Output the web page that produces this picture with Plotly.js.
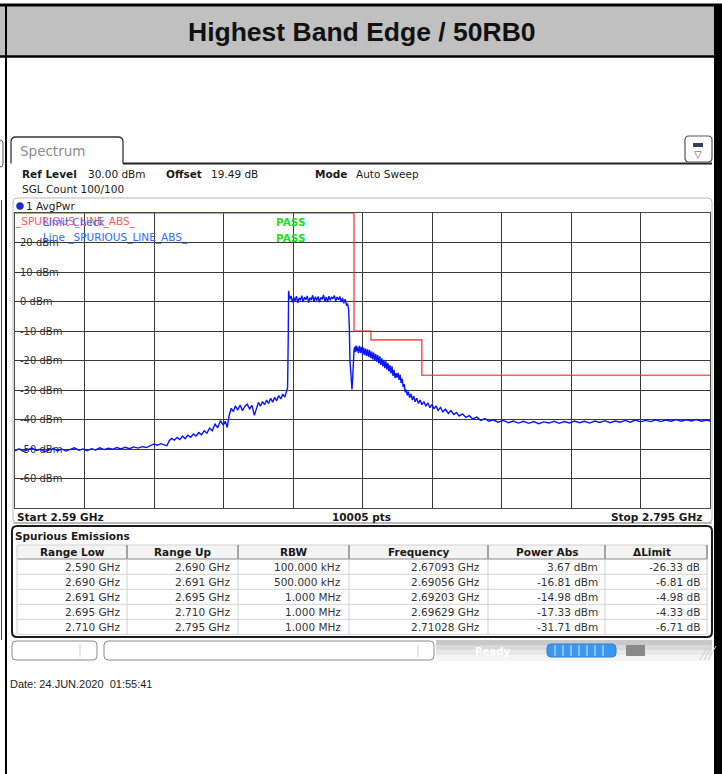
<!DOCTYPE html>
<html><head><meta charset="utf-8">
<script src="https://cdn.plot.ly/plotly-3.0.1.min.js"></script>
<style>html,body{margin:0;padding:0;background:#fff;}#chart{width:722px;height:774px;}</style>
</head><body><div id="chart"></div>
<script>
// ---------------- data ----------------
const chartTitle = 'Highest Band Edge / 50RB0';
const freqGHz = [
2.5900,2.5912,2.5925,2.5938,2.5950,2.5963,2.5975,2.5988,2.6000,2.6013,2.6025,2.6038,2.6050,2.6063,2.6075,2.6088,
2.6100,2.6113,2.6125,2.6138,2.6150,2.6163,2.6175,2.6188,2.6200,2.6213,2.6225,2.6238,2.6250,2.6263,2.6275,2.6288,
2.6300,2.6310,2.6320,2.6330,2.6340,2.6348,2.6355,2.6362,2.6370,2.6378,2.6386,2.6394,2.6402,2.6410,2.6418,2.6426,
2.6434,2.6442,2.6450,2.6458,2.6466,2.6474,2.6482,2.6490,2.6498,2.6506,2.6514,2.6520,2.6526,2.6532,2.6538,2.6544,
2.6550,2.6557,2.6564,2.6571,2.6578,2.6585,2.6592,2.6599,2.6606,2.6612,2.6618,2.6624,2.6630,2.6636,2.6642,2.6648,
2.6654,2.6660,2.6666,2.6672,2.6678,2.6684,2.6690,2.6696,2.6701,2.6704,2.6706,2.6707,2.6710,
2.6714,2.6718,2.6722,2.6726,2.6730,2.6734,2.6738,2.6742,2.6746,2.6750,2.6754,2.6758,2.6762,2.6766,2.6770,2.6774,
2.6778,2.6782,2.6786,2.6790,2.6794,2.6798,2.6802,2.6806,2.6810,2.6814,2.6818,2.6822,2.6826,2.6830,2.6834,2.6838,
2.6842,2.6846,2.6850,2.6854,2.6858,2.6862,2.6866,2.6870,2.6874,2.6878,2.6881,2.6884,2.6886,2.6888,2.6890,2.6892,
2.6894,2.6896,2.6898,2.6900,2.6902,2.6904,2.6906,2.6908,2.6910,2.6913,2.6916,2.6919,2.6922,2.6925,2.6928,2.6931,
2.6934,2.6937,2.6940,2.6943,2.6946,2.6949,2.6952,2.6955,2.6958,2.6961,2.6964,2.6967,2.6970,2.6973,2.6976,2.6979,
2.6982,2.6985,2.6988,2.6991,2.6994,2.6997,2.7000,2.7003,2.7006,2.7009,2.7012,2.7015,2.7018,2.7021,2.7024,2.7027,
2.7030,2.7033,2.7036,2.7039,2.7042,2.7045,2.7048,2.7051,2.7054,2.7057,2.7060,2.7064,2.7068,2.7072,2.7076,2.7080,
2.7085,2.7090,2.7095,2.7100,2.7106,2.7112,2.7118,2.7124,2.7130,2.7136,2.7142,2.7148,2.7155,2.7162,2.7170,2.7178,
2.7186,2.7194,2.7202,2.7210,2.7220,2.7230,2.7240,2.7250,2.7262,2.7274,2.7286,2.7298,2.7310,2.7325,2.7340,2.7355,
2.7370,2.7385,2.7400,2.7415,2.7430,2.7445,2.7460,2.7475,2.7490,2.7505,2.7520,2.7535,2.7550,2.7565,2.7580,2.7595,
2.7610,2.7625,2.7640,2.7655,2.7670,2.7685,2.7700,2.7715,2.7730,2.7745,2.7760,2.7775,2.7790,2.7805,2.7820,2.7835,
2.7850,2.7865,2.7880,2.7895,2.7910,2.7925,2.7940,2.7950
];
const levelDbm = [
-50.6,-49.9,-50.8,-50.2,-49.7,-50.5,-50.1,-50.9,-50.3,-49.8,-50.6,-50.0,-50.7,-50.2,-49.6,-50.4,
-50.0,-50.6,-49.9,-50.3,-49.6,-50.2,-49.7,-50.1,-49.5,-50.0,-49.4,-49.9,-49.3,-49.7,-49.2,-49.5,
-48.9,-48.3,-48.7,-48.2,-48.6,-48.9,-47.2,-46.4,-47.0,-46.1,-46.8,-45.6,-46.5,-45.3,-46.0,-44.9,
-45.6,-44.4,-45.2,-43.8,-44.6,-42.9,-43.8,-41.6,-42.8,-40.4,-41.9,-40.6,-42.7,-38.4,-36.2,-37.3,
-35.4,-36.8,-35.1,-37.0,-35.6,-34.8,-36.4,-35.2,-38.6,-36.0,-34.2,-35.5,-33.9,-35.0,-33.4,-34.6,
-32.8,-34.1,-32.5,-33.6,-31.9,-33.0,-31.4,-32.4,-30.6,-29.2,-12.0,3.6,0.8,
1.9,-0.3,1.4,0.2,1.8,-0.5,1.2,0.4,2.0,-0.2,1.5,0.6,1.9,-0.4,1.3,0.5,
2.1,0.0,1.6,0.3,1.7,-0.3,1.4,0.7,2.2,0.1,1.5,-0.2,1.8,0.4,1.6,0.9,
2.0,0.2,1.5,0.6,1.7,-0.2,1.2,-0.6,0.8,-1.4,-0.7,-2.6,-8.0,-20.0,-25.0,-27.5,
-29.8,-26.0,-19.5,-16.5,-15.4,-17.2,-14.9,-16.8,-15.3,-17.5,-15.0,-17.4,-15.4,-17.9,-15.6,-18.2,
-16.0,-18.4,-16.2,-18.8,-16.5,-19.1,-17.0,-19.6,-17.3,-20.0,-17.8,-20.4,-18.2,-21.0,-18.6,-21.5,
-19.3,-22.0,-19.8,-22.6,-20.3,-23.1,-20.9,-23.7,-21.6,-24.4,-22.0,-25.2,-23.2,-26.0,-24.3,-25.8,
-24.2,-26.6,-24.9,-27.6,-26.2,-29.0,-28.0,-30.8,-29.9,-31.8,-30.6,-32.6,-31.3,-33.4,-32.0,-34.0,
-32.8,-34.6,-33.4,-35.0,-33.9,-35.5,-34.4,-36.0,-34.9,-36.4,-35.4,-36.9,-35.9,-37.4,-36.5,-37.9,
-37.0,-38.3,-37.6,-38.8,-38.1,-39.3,-38.7,-39.8,-39.2,-40.3,-39.7,-40.6,-40.1,-40.9,-40.3,-41.1,
-40.5,-41.2,-40.6,-41.3,-40.7,-41.4,-40.8,-41.2,-40.6,-41.3,-40.7,-41.2,-40.5,-41.1,-40.6,-41.2,
-40.5,-41.0,-40.4,-41.1,-40.5,-40.9,-40.3,-40.9,-40.2,-40.8,-40.3,-40.7,-40.1,-40.7,-40.2,-40.6,
-40.0,-40.6,-40.1,-40.5,-40.0,-40.6,-40.2,-40.5
];
const yTickValues = [20,10,0,-10,-20,-30,-40,-50,-60];
const yTickLabels = ['20 dBm','10 dBm','0 dBm','-10 dBm','-20 dBm','-30 dBm','-40 dBm','-50 dBm','-60 dBm'];
const startGHz = 2.59, stopGHz = 2.795, sweepPoints = 10005;
const refLevel = '30.00 dBm', offsetDb = '19.49 dB', sweepMode = 'Auto Sweep', sglCount = '100/100';
const tableHeaders = ['Range Low','Range Up','RBW','Frequency','Power Abs','ΔLimit'];
const rangeLow = [2.590,2.690,2.691,2.695,2.710];
const rangeUp  = [2.690,2.691,2.695,2.710,2.795];
const rbwText  = ['100.000 kHz','500.000 kHz','1.000 MHz','1.000 MHz','1.000 MHz'];
const peakFreq = [2.67093,2.69056,2.69203,2.69629,2.71028];
const powerAbs = [3.67,-16.81,-14.98,-17.33,-31.71];
const deltaLimit = [-26.33,-6.81,-4.98,-4.33,-6.71];
const dateText = 'Date: 24.JUN.2020  01:55:41';

// ---------------- pixel helpers for decorations ----------------
const PL = 15, PT = 213, PW = 695, PH = 295;
const X = p => (p - PL) / PW;
const Y = p => (PT + PH - p) / PH;
const FONT = 'DejaVu Sans';
const ann = [];
const shp = [];
function txt(s, x, y, o) {
  o = o || {};
  ann.push({text: o.bold ? '<b>' + s + '</b>' : s, x: X(x), y: Y(y), xref: 'paper', yref: 'paper',
    showarrow: false, xanchor: o.anchor || 'left', yanchor: 'middle', borderpad: 0, borderwidth: 0,
    font: {family: o.family || FONT, size: o.size || 10.5, color: o.color || '#1a1a1a'}});
}
function rect(x0, y0, x1, y1, fill, lc, lw, layer) {
  shp.push({type: 'rect', xref: 'paper', yref: 'paper', x0: X(x0), x1: X(x1), y0: Y(y1), y1: Y(y0),
    fillcolor: fill || 'rgba(0,0,0,0)', line: {color: lc || 'rgba(0,0,0,0)', width: lw || 0}, layer: layer || 'above'});
}
function seg(x0, y0, x1, y1, c, w) {
  shp.push({type: 'line', xref: 'paper', yref: 'paper', x0: X(x0), x1: X(x1), y0: Y(y0), y1: Y(y1),
    line: {color: c, width: w}, layer: 'above'});
}
function rrect(x0, y0, x1, y1, r, fill, lc, lw, openBottom) {
  const P = (x, y) => X(x) + ',' + Y(y);
  let d = 'M' + P(x0, y1) + ' L' + P(x0, y0 + r) + ' Q' + P(x0, y0) + ' ' + P(x0 + r, y0) +
          ' L' + P(x1 - r, y0) + ' Q' + P(x1, y0) + ' ' + P(x1, y0 + r) + ' L' + P(x1, y1);
  if (!openBottom) {
    d = 'M' + P(x0 + r, y1) + ' Q' + P(x0, y1) + ' ' + P(x0, y1 - r) + ' L' + P(x0, y0 + r) + ' Q' + P(x0, y0) + ' ' + P(x0 + r, y0) +
        ' L' + P(x1 - r, y0) + ' Q' + P(x1, y0) + ' ' + P(x1, y0 + r) + ' L' + P(x1, y1 - r) + ' Q' + P(x1, y1) + ' ' + P(x1 - r, y1) + ' Z';
  }
  shp.push({type: 'path', xref: 'paper', yref: 'paper', path: d, fillcolor: fill || 'rgba(0,0,0,0)',
    line: {color: lc, width: lw}, layer: 'above'});
}

// ---------------- outer document frame ----------------
rect(0, 6, 714, 56, '#c0c0c0', null, 0, 'below');
txt(chartTitle, 362, 32, {anchor: 'center', family: 'Liberation Sans', size: 26.5, bold: true, color: '#111'});
seg(0, 5, 722, 5, '#000', 3);
seg(0, 56.5, 714, 56.5, '#000', 2.5);
seg(6, 5, 6, 774, '#000', 2);
rect(714, 4, 722, 774, '#000', null, 0, 'above');
// neighbouring (cut-off) page remnants at far left
rrect(-6, 140, 3, 167, 3, null, '#555', 1);
seg(1.5, 200, 1.5, 640, '#444', 1);

// ---------------- instrument header ----------------
rrect(11, 137, 123, 163.5, 5, '#fff', '#333', 1.3, true);
seg(123, 163.5, 712, 163.5, '#222', 2);
txt('Spectrum', 20, 151, {size: 13.5, color: '#8c8c8c'});
rrect(685, 136, 712, 162, 4, '#fff', '#555', 1.2);
rect(693, 143, 703, 147, '#3a3f58', null, 0);
txt('▽', 698, 154.5, {anchor: 'center', size: 10, color: '#4a4f68'});
txt('Ref Level', 22, 174, {bold: true});
txt(refLevel, 88, 174);
txt('Offset', 166, 174, {bold: true});
txt(offsetDb, 211, 174);
txt('Mode', 315, 174, {bold: true});
txt(sweepMode, 356, 174);
txt('SGL Count ' + sglCount, 22, 189);

// plot panel frame
rrect(13, 198, 712, 523, 4, null, '#b8b8b8', 1);
seg(13, 523, 712, 523, '#9a9a9a', 1);
shp.push({type: 'circle', xref: 'paper', yref: 'paper', x0: X(16.5), x1: X(23.5), y0: Y(209.5), y1: Y(202.5),
  fillcolor: '#1a2ee0', line: {color: '#0a1a90', width: 0.5}, layer: 'above'});
txt('1 AvgPwr', 26, 206);

// limit check legend (overlapping as on the instrument screen)
txt('_SPURIOUS_LINE_ABS_', 15, 221.5, {color: '#ff5a5a'});
txt('Limit Check', 43, 221.5, {color: '#2f6cff'});
txt('Line _SPURIOUS_LINE_ABS_', 43, 237.5, {color: '#2f6cff'});
txt('PASS', 276, 221.5, {color: '#22dd22', bold: true});
txt('PASS', 276, 237.5, {color: '#22dd22', bold: true});

// white boxes under y tick labels (between grid and traces)
yTickLabels.forEach((s, i) => {
  const w = s.length * 6.05 + 4;
  shp.push({type: 'rect', xref: 'paper', yref: 'y', x0: 0, x1: X(20 + w), y0: yTickValues[i] - 1.6, y1: yTickValues[i] + 1.6,
    fillcolor: '#fff', line: {width: 0}, layer: 'between'});
});

// start / stop line
txt('Start ' + startGHz + ' GHz', 17, 516.5, {bold: true});
txt(sweepPoints + ' pts', 361, 516.5, {bold: true, anchor: 'center'});
txt('Stop ' + stopGHz + ' GHz', 702, 516.5, {bold: true, anchor: 'right'});

// ---------------- spurious emissions table ----------------
rrect(12, 526, 712, 637, 5, '#fff', '#1c1c1c', 2);
txt('Spurious Emissions', 15, 536, {bold: true});
const colEdges = [17, 127, 238, 349, 488, 605, 707];
rect(17, 545, 707, 559, '#f4f4f4', null, 0);
seg(17, 559, 707, 559, '#8a8a8a', 1.2);
seg(17, 545, 707, 545, '#d0d0d0', 1);
for (let c = 1; c < colEdges.length; c++) {
  seg(colEdges[c], 545, colEdges[c], 559, '#7a7a7a', 1.3);
  seg(colEdges[c], 559, colEdges[c], 634, '#cfcfcf', 1);
}
seg(17, 545, 17, 634, '#cfcfcf', 1);
tableHeaders.forEach((h, c) => {
  const cx = c === 5 ? 652 : (colEdges[c] + colEdges[c + 1]) / 2;
  txt(h, cx, 552, {bold: true, anchor: 'center'});
});
const rowY = [566.8, 581.8, 596.8, 611.8, 626.8];
for (let r = 0; r < 5; r++) {
  seg(17, 574.3 + 15 * r, 707, 574.3 + 15 * r, '#d4d4d4', 1);
  const cells = [rangeLow[r].toFixed(3) + ' GHz', rangeUp[r].toFixed(3) + ' GHz', rbwText[r],
    peakFreq[r].toFixed(5) + ' GHz', powerAbs[r].toFixed(2) + ' dBm', deltaLimit[r].toFixed(2) + ' dB'];
  const rightEdge = [120, 230, 341, 480, 598, 700];
  cells.forEach((s, c) => txt(s, rightEdge[c], rowY[r], {anchor: 'right', color: '#333'}));
}

// ---------------- status bar ----------------
rect(436, 640, 712, 645, '#c9c9c9', null, 0);
rect(436, 645, 712, 650, '#d9d9d9', null, 0);
rect(436, 650, 712, 655, '#e8e8e8', null, 0);
rect(436, 655, 712, 661, '#f5f5f5', null, 0);
rrect(12, 641, 97, 660, 4, '#fff', '#8a8a8a', 1);
seg(80, 645, 80, 657, '#cfcfcf', 1);
rrect(104, 641, 434, 660, 4, '#fff', '#8a8a8a', 1);
seg(418, 645, 418, 657, '#cfcfcf', 1);
txt('Ready', 475, 651, {bold: true, color: '#ffffff', size: 10});
rrect(547, 644, 616, 657, 4, '#3a96f0', '#2a80d8', 1);
[555, 563, 571, 579, 587, 595, 603].forEach(x => seg(x, 645, x, 656, '#d8ecff', 1));
rect(626, 645, 645, 656, '#8a8a8a', null, 0);
[700, 704, 708].forEach(x => seg(x, 660, x + 8, 646, '#cfcfcf', 1));

// date
txt(dateText, 10, 684, {family: 'Liberation Sans', size: 11, color: '#222'});

// ---------------- traces ----------------
const limitLevel = powerAbs.map((p, i) => +(p - deltaLimit[i]).toFixed(2));
const limX = [], limY = [];
rangeLow.forEach((lo, i) => { limX.push(lo, rangeUp[i]); limY.push(limitLevel[i], limitLevel[i]); });

const traces = [
  {x: freqGHz, y: levelDbm, type: 'scatter', mode: 'lines', line: {color: '#0a14ff', width: 1.4}, hoverinfo: 'skip'},
  {x: limX, y: limY, type: 'scatter', mode: 'lines', line: {color: 'rgba(255,40,40,0.75)', width: 1.6}, hoverinfo: 'skip'}
];

const layout = {
  width: 722, height: 774, autosize: false,
  margin: {l: PL, r: 722 - PL - PW, t: PT, b: 774 - PT - PH, pad: 0},
  paper_bgcolor: '#ffffff', plot_bgcolor: '#ffffff', showlegend: false,
  xaxis: {range: [startGHz, stopGHz], tick0: startGHz, dtick: (stopGHz - startGHz) / 10, showticklabels: false,
    showgrid: true, gridcolor: '#3a3a3a', gridwidth: 1, zeroline: false, ticks: '',
    showline: true, mirror: true, linecolor: '#4a4a4a', linewidth: 1, layer: 'below traces', fixedrange: true},
  yaxis: {range: [-70, 30], tickmode: 'array', tickvals: yTickValues, ticktext: yTickLabels,
    ticklabelposition: 'inside', ticklabelstandoff: 4, tickfont: {family: FONT, size: 10, color: '#333'},
    showgrid: true, gridcolor: '#3a3a3a', gridwidth: 1, zeroline: false, ticks: '',
    showline: true, mirror: true, linecolor: '#4a4a4a', linewidth: 1, layer: 'below traces', fixedrange: true},
  shapes: shp, annotations: ann
};
Plotly.newPlot('chart', traces, layout, {staticPlot: true, displayModeBar: false});
</script></body></html>
